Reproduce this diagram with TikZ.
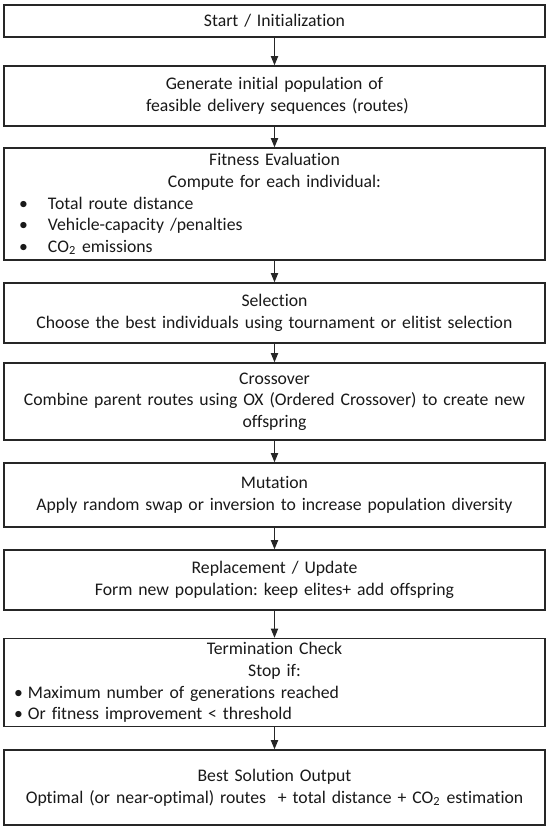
\documentclass[tikz,border=0pt]{standalone}
\usepackage{fontspec}
\setmainfont{Carlito}[Ligatures=NoCommon]
\usetikzlibrary{arrows.meta}
\begin{document}
\frenchspacing
\begin{tikzpicture}[x=0.5pt,y=-0.5pt,
  stepbox/.style={draw=black!85, line width=0.7pt, fill=white, inner xsep=0pt, inner ysep=0pt,
    minimum width=270.5pt, text width=270.5pt, align=center,
    font=\fontsize{8.85}{10.8}\selectfont, text=black!90},
  flow/.style={draw=black!85, line width=0.6pt, -{Triangle[width=3.6pt,length=4.6pt]}}]
\useasboundingbox (0,0) rectangle (550,831);
\node[stepbox, minimum height=16pt] (b1) at (274.5,21) {Start / Initialization};
\node[stepbox, minimum height=30pt] (b2) at (274.5,96) {Generate initial population of\\ \ feasible delivery sequences (routes)};
\node[stepbox, minimum height=56pt, align=left] (b3) at (274.5,204) {%
  \centering Fitness Evaluation\\ Compute for each individual:\par
  \raggedright
  \hspace*{7.5pt}\makebox[14.5pt][l]{•}Total route distance\\
  \hspace*{7.5pt}\makebox[14.5pt][l]{•}Vehicle-capacity /penalties\\
  \hspace*{7.5pt}\makebox[14.5pt][l]{•}CO\textsubscript{2} emissions\par};
\node[stepbox, minimum height=30pt] (b4) at (274.5,313) {Selection\\ Choose the best individuals using tournament or elitist selection};
\node[stepbox, minimum height=38.5pt] (b5) at (274.5,401.5) {Crossover\\ Combine parent routes using OX (Ordered Crossover) to create new\\ offspring};
\node[stepbox, minimum height=32pt] (b6) at (274.5,495) {Mutation\\ Apply random swap or inversion to increase population diversity};
\node[stepbox, minimum height=30pt] (b7) at (274.5,580) {Replacement / Update\\ Form new population: keep elites+ add offspring};
\node[stepbox, minimum height=44pt, align=left] (b8) at (274.5,682.5) {%
  \centering Termination Check\\ Stop if:\par
  \raggedright
  \hspace*{5pt}\makebox[7pt][l]{•}Maximum number of generations reached\\
  \hspace*{5pt}\makebox[7pt][l]{•}Or fitness improvement < threshold\par};
\node[stepbox, minimum height=37.5pt] (b9) at (274.5,787.5) {Best Solution Output\\ Optimal (or near-optimal) routes \ + total distance + CO\textsubscript{2} estimation};
\foreach \a/\b in {b1/b2,b2/b3,b3/b4,b4/b5,b5/b6,b6/b7,b7/b8,b8/b9}
  \draw[flow] (\a) -- (\b);
\end{tikzpicture}
\end{document}
